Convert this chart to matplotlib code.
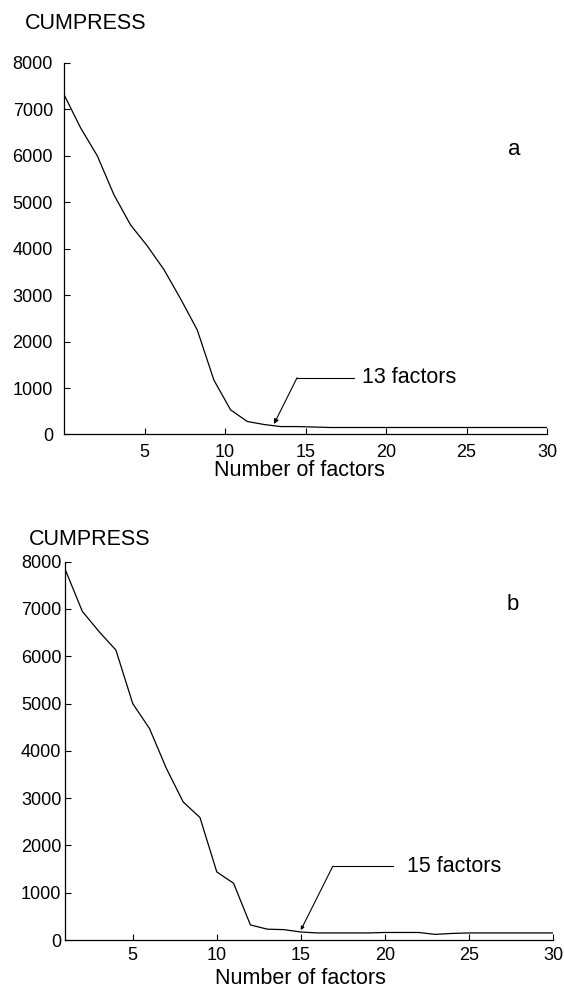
import numpy as np
import matplotlib
matplotlib.use('Agg')
import matplotlib.pyplot as plt

plt.rcParams['font.family'] = ['Liberation Sans', 'DejaVu Sans']

# panel a: 30 factors spread over 0..30 on the axis
cumpress_a = [7320, 6600, 6000, 5160, 4510, 4060, 3550, 2920, 2250, 1170,
              530, 280, 215, 170, 170, 160, 150, 150, 150, 150,
              150, 150, 150, 150, 150, 150, 150, 150, 150, 150]
# panel b: factors 1..30
factors_b = list(range(1, 31))
cumpress_b = [7820, 6950, 6520, 6130, 5000, 4470, 3630, 2920, 2590, 1440,
              1200, 320, 230, 220, 170, 150, 150, 150, 150, 160,
              160, 160, 120, 140, 150, 150, 150, 150, 150, 150]
xticks = [5, 10, 15, 20, 25, 30]
yticks = [0, 1000, 2000, 3000, 4000, 5000, 6000, 7000, 8000]

x_a = np.linspace(0, 30, len(cumpress_a))

fig = plt.figure(figsize=(5.64, 9.89), dpi=100)
ax_a = fig.add_axes([0.1135, 0.5607, 0.8565, 0.3756])
ax_b = fig.add_axes([0.1161, 0.0495, 0.8644, 0.3826])


def style(ax, xlo, ypad, xpad, label_pos):
    ax.spines['top'].set_visible(False)
    ax.spines['right'].set_visible(False)
    for s in ('left', 'bottom'):
        ax.spines[s].set_linewidth(0.9)
    ax.set_xlim(xlo, 30)
    ax.set_ylim(0, 8000)
    ax.set_xticks(xticks)
    ax.set_yticks(yticks)
    ax.tick_params(direction='in', length=4, width=0.8, labelsize=13)
    ax.tick_params(axis='y', pad=ypad)
    ax.tick_params(axis='x', pad=xpad)
    ax.set_xlabel('Number of factors', fontsize=15.5)
    ax.xaxis.label.set_verticalalignment('baseline')
    ax.xaxis.set_label_coords(*label_pos)


ax_a.plot(x_a, cumpress_a, color='black', lw=0.9)
style(ax_a, 0, 8, 7, (0.4865, -0.113))
ax_a.text(27.95, 6130, 'a', fontsize=16, ha='center', va='center')
# "13 factors" leader
ax_a.plot([14.47, 18.03], [1220, 1220], color='black', lw=0.8)
ax_a.annotate('', xy=(13.04, 226), xytext=(14.47, 1220),
              arrowprops=dict(arrowstyle='-|>', lw=0.8, color='black',
                              mutation_scale=7, shrinkA=0, shrinkB=0))
ax_a.text(18.5, 1220, '13 factors', fontsize=15.5, ha='left', va='center')

ax_b.plot(factors_b, cumpress_b, color='black', lw=0.9)
style(ax_b, 1, 3, 5, (0.481, -0.1163))
ax_b.text(27.6, 7100, 'b', fontsize=16, ha='center', va='center')
# "15 factors" leader
ax_b.plot([16.9, 20.5], [1560, 1560], color='black', lw=0.8)
ax_b.annotate('', xy=(15.0, 210), xytext=(16.9, 1560),
              arrowprops=dict(arrowstyle='-|>', lw=0.8, color='black',
                              mutation_scale=5, shrinkA=0, shrinkB=0))
ax_b.text(21.3, 1560, '15 factors', fontsize=15.5, ha='left', va='center')

fig.text(25 / 564, 960 / 989, 'CUMPRESS', fontsize=15.5, va='baseline')
fig.text(29 / 564, 444 / 989, 'CUMPRESS', fontsize=15.5, va='baseline')

fig.savefig('out.png', dpi=100)
